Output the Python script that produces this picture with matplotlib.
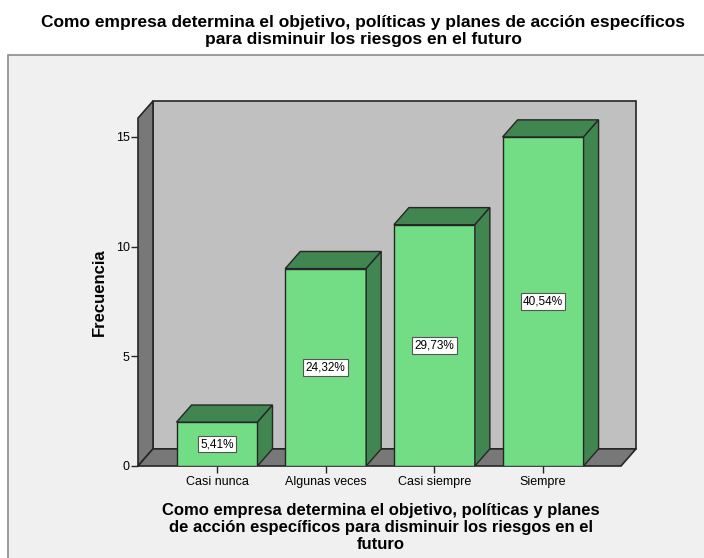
import matplotlib
matplotlib.use("Agg")
import matplotlib.pyplot as plt
from matplotlib.patches import Polygon, Rectangle

plt.rcParams["font.family"] = ["Liberation Sans", "DejaVu Sans"]

categories = ["Casi nunca", "Algunas veces", "Casi siempre", "Siempre"]
counts = [2, 9, 11, 15]
percent_labels = ["5,41%", "24,32%", "29,73%", "40,54%"]

title = ("Como empresa determina el objetivo, políticas y planes de acción específicos\n"
         "para disminuir los riesgos en el futuro")
xlabel = ("Como empresa determina el objetivo, políticas y planes\n"
          "de acción específicos para disminuir los riesgos en el\nfuturo")

front_col = "#72dd85"
dark_col = "#418550"
wall_col = "#c0c0c0"
side_col = "#787878"
edge_col = "#262626"

W, H = 704, 558
fig = plt.figure(figsize=(W / 100, H / 100), dpi=100)
fig.patch.set_facecolor("white")
frame = Rectangle((8 / W, -0.05), 1.0, (H - 55) / H + 0.05,
                  transform=fig.transFigure, facecolor="#f0f0f0",
                  edgecolor="#8a8a8a", lw=1.2, zorder=-5)
fig.patches.append(frame)

ax = fig.add_axes([138 / W, (H - 466) / H, (636 - 138) / W, (466 - 101) / H])
xmin, xmax = -0.727, 3.855
ymin, ymax = 0, 16.64
dx, dy = 0.138, 0.78
ax.set_xlim(xmin, xmax)
ax.set_ylim(ymin, ymax)
ax.patch.set_visible(False)
for s in ax.spines.values():
    s.set_visible(False)

# walls and floor
ax.add_patch(Polygon([(xmin + dx, dy), (xmax, dy), (xmax, ymax), (xmin + dx, ymax)],
                     closed=True, facecolor=wall_col, edgecolor=edge_col, lw=1.2, clip_on=False))
ax.add_patch(Polygon([(xmin, 0), (xmin + dx, dy), (xmin + dx, ymax), (xmin, ymax - dy)],
                     closed=True, facecolor=side_col, edgecolor=edge_col, lw=1.2, clip_on=False))
ax.add_patch(Polygon([(xmin, 0), (xmax - dx, 0), (xmax, dy), (xmin + dx, dy)],
                     closed=True, facecolor=side_col, edgecolor=edge_col, lw=1.2, clip_on=False))

bw = 0.745
pos = list(range(len(categories)))
ax.bar(pos, counts, width=bw, color=front_col, edgecolor=edge_col, lw=1, zorder=3)
for x, v, lab in zip(pos, counts, percent_labels):
    l, r = x - bw / 2, x + bw / 2
    ax.add_patch(Polygon([(l, v), (r, v), (r + dx, v + dy), (l + dx, v + dy)], closed=True,
                         facecolor=dark_col, edgecolor=edge_col, lw=1, zorder=3))
    ax.add_patch(Polygon([(r, 0), (r + dx, dy), (r + dx, v + dy), (r, v)], closed=True,
                         facecolor=dark_col, edgecolor=edge_col, lw=1, zorder=3))
    ax.text(x, v / 2, lab, ha="center", va="center", fontsize=8.5, zorder=5,
            bbox=dict(boxstyle="square,pad=0.2", facecolor="white", edgecolor="#555555", lw=0.8))

ax.set_xticks(pos)
ax.set_xticklabels(categories, fontsize=9)
ax.set_yticks([0, 5, 10, 15])
ax.tick_params(axis="both", direction="out", length=5, width=1, color=edge_col, labelsize=9)
ax.tick_params(axis="y", pad=1)
ax.tick_params(axis="x", pad=2)
ax.set_ylabel("Frecuencia", fontsize=12, fontweight="bold", labelpad=6)
ax.yaxis.label.set_y(0.477)
ax.set_xlabel(xlabel, fontsize=12, fontweight="bold", labelpad=11, linespacing=1.15)
ax.xaxis.label.set_x((381 - 138) / (636 - 138))

fig.text(363 / W, 1 - 31 / H, title, ha="center", va="center", fontsize=12.5,
         fontweight="bold", linespacing=1.15)

fig.savefig("out.png", dpi=100)
